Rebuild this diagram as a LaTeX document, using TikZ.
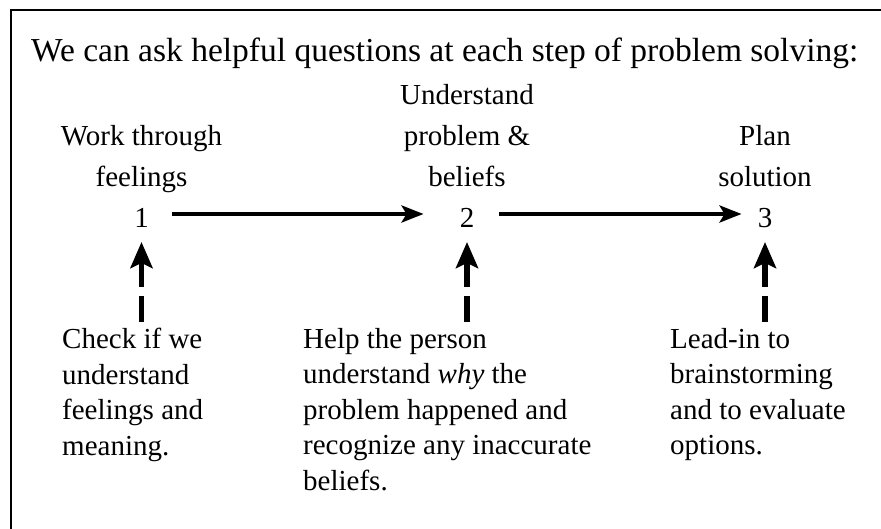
\documentclass[tikz,border=0pt]{standalone}
\usepackage{fontspec}
\setmainfont{Liberation Serif}
\usetikzlibrary{arrows.meta,positioning}
\begin{document}
\begin{tikzpicture}[x=1pt, y=-1pt,
  every node/.style={inner sep=0pt, font=\fontsize{29}{41}\selectfont},
  hdr/.style={align=center, execute at end node={\strut}},
  num/.style={anchor=base, execute at begin node={\strut}},
  desc/.style={align=left, anchor=north west, font=\fontsize{29}{35.5}\selectfont, execute at begin node={\strut}},
  flow/.style={-{Stealth[length=22pt, width=17pt, inset=5pt]}, line width=4pt},
  ask/.style={-{Stealth[length=26pt, width=22pt, inset=5pt]}, line width=5.5pt, dash pattern=on 26pt off 9pt, shorten >=1.5pt}]
\useasboundingbox (0,0) rectangle (881,529);
\clip (0,0) rectangle (881,529);
\draw[line width=2pt] (11,10) rectangle (900,545);
\node[anchor=base west, font=\fontsize{33.5}{40}\selectfont] (title) at (31,62) {We can ask helpful questions at each step of problem solving:};
% steps
\node[num] (s1) at (141.5,228) {1};
\node[num] (s2) at (467,228) {2};
\node[num] (s3) at (765,228) {3};
\node[hdr, above=0pt of s1] (h1) {Work through\\feelings};
\node[hdr, above=0pt of s2] (h2) {Understand\\problem \&\\beliefs};
\node[hdr, above=0pt of s3] (h3) {Plan\\solution};
\draw[flow, shorten <=23pt, shorten >=36pt] ([yshift=14pt]s1.base east) -- ([yshift=14pt]s2.base west);
\draw[flow, shorten <=25pt, shorten >=16pt] ([yshift=14pt]s2.base east) -- ([yshift=14pt]s3.base west);
% questions
\node[desc] (d1) at (62,328) {Check if we\\understand\\feelings and\\meaning.};
\node[desc] (d2) at (303,328) {Help the person\\understand \emph{why} the\\problem happened and\\recognize any inaccurate\\beliefs.};
\node[desc] (d3) at (670,328) {Lead-in to\\brainstorming\\and to evaluate\\options.};
\coordinate (q1) at (s1.base |- 0,322);
\coordinate (q2) at (s2.base |- 0,322);
\coordinate (q3) at (s3.base |- 0,322);
\draw[ask] (q1) -- (s1.south);
\draw[ask] (q2) -- (s2.south);
\draw[ask] (q3) -- (s3.south);
\end{tikzpicture}
\end{document}
